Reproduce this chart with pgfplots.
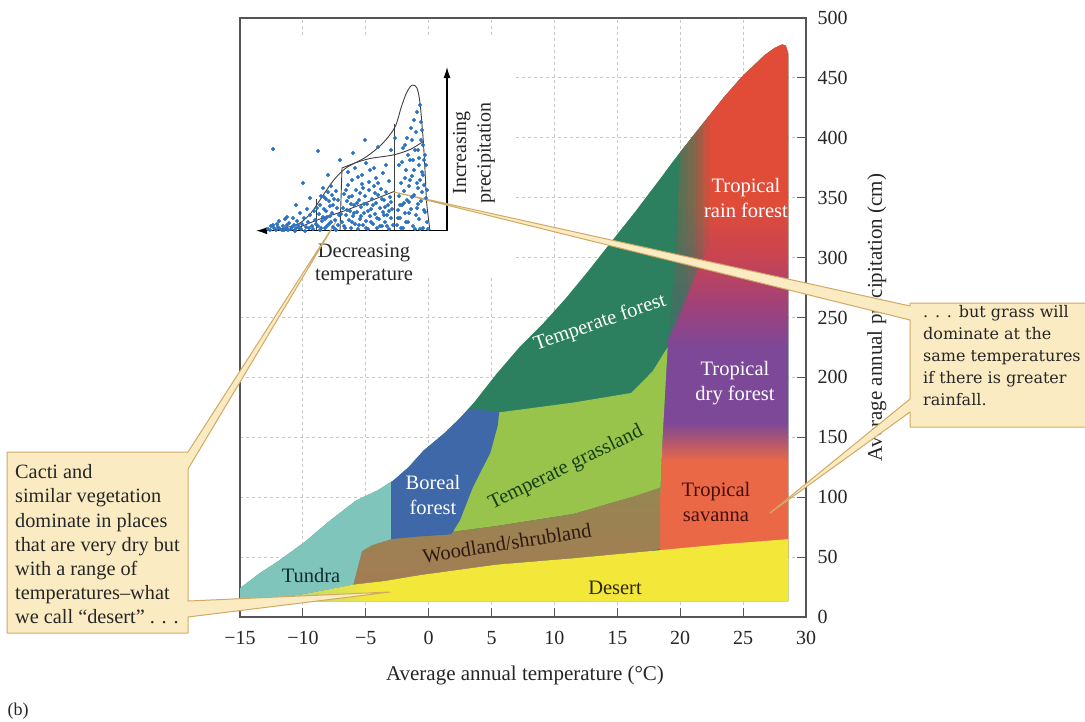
\documentclass[border=0pt]{standalone}
\usepackage{pgfplots}
\pgfplotsset{compat=1.18}
\usepackage{fontspec}
\setmainfont{Liberation Serif}
\newfontfamily\boxfont{DejaVu Serif}
\usetikzlibrary{arrows.meta}

\definecolor{tforest}{RGB}{44,128,96}
\definecolor{tundra}{RGB}{128,197,188}
\definecolor{boreal}{RGB}{62,104,168}
\definecolor{grass}{RGB}{152,196,76}
\definecolor{wood}{RGB}{163,124,84}
\definecolor{woodtop}{RGB}{150,134,82}
\definecolor{desert}{RGB}{243,231,58}
\definecolor{desA}{RGB}{176,208,140}
\definecolor{savanna}{RGB}{234,104,70}
\definecolor{dryf}{RGB}{125,72,152}
\definecolor{magf}{RGB}{160,65,122}
\definecolor{crim}{RGB}{200,68,82}
\definecolor{rainf}{RGB}{224,76,56}
\definecolor{boxfill}{RGB}{251,235,194}
\definecolor{boxline}{RGB}{208,170,100}
\definecolor{dotblue}{RGB}{45,115,195}
\definecolor{gridc}{RGB}{200,200,200}
\definecolor{framec}{RGB}{85,85,85}

\pgfdeclareverticalshading{tropical}{100bp}{color(0bp)=(savanna); color(34.35bp)=(savanna); color(38.08bp)=(dryf); color(45.44bp)=(dryf); color(49.53bp)=(magf); color(54.21bp)=(crim); color(59.46bp)=(rainf); color(100bp)=(rainf)}
\pgfdeclarehorizontalshading{desertsh}{100bp}{color(0bp)=(desA); color(27bp)=(desA); color(36bp)=(desert); color(100bp)=(desert)}

\newcommand\fs{\fontsize{21}{25}\selectfont}
\newcommand\bfs{\fontsize{20.5}{24.5}\selectfont}

\begin{document}
\begin{tikzpicture}
\useasboundingbox (0,0) rectangle (1085pt,721pt);

\begin{axis}[
  at={(240pt,104pt)}, anchor=south west,
  scale only axis, width=566pt, height=599pt,
  xmin=-15, xmax=30, ymin=0, ymax=500,
  enlargelimits=false, clip=true,
  xtick={-15,-10,...,30}, xticklabels={−15,−10,−5,0,5,10,15,20,25,30},
  ytick={0,50,...,500}, yticklabels={0,50,100,150,200,250,300,350,400,450,500},
  xtick pos=bottom, ytick pos=right, yticklabel pos=right,
  tick align=inside, major tick length=9pt,
  grid=major, grid style={gridc, dash pattern=on 3pt off 3pt, line width=0.8pt},
  axis line style={framec, line width=1.2pt},
  every tick/.style={framec, line width=1.2pt},
  tick label style={font=\fontsize{20}{24}\selectfont, text=black!85},
  xticklabel style={yshift=-11pt},
  yticklabel style={xshift=8pt},
  xlabel={Average annual temperature (°C)},
  ylabel={Average annual precipitation (cm)},
  label style={font=\fs, text=black!85},
  xlabel style={at={(axis description cs:0.5035,-0.097)}, anchor=center},
  ylabel style={at={(axis description cs:1.125,0.5)}, anchor=center},
]
\fill[white] (axis cs:-14.9,283) rectangle (axis cs:6.8,484);
% base: temperate forest (whole envelope)
\addplot[draw=none, fill=tforest] coordinates {(-15,13) (-15,24) (-13.5,36) (-11.9,47) (-9.8,63) (-7.9,80) (-5.8,97) (-4.0,106) (-2.8,114) (-1.6,125) (-0.4,139) (1.2,153) (2.4,165) (3.6,179) (5.4,203) (7.2,225) (9.1,245) (10.9,266) (12.7,289) (14.5,313) (16.4,338) (18.2,363) (20.0,388) (21.5,408) (23.4,433) (24.9,451) (26.0,462) (26.7,469) (27.5,475) (28.1,478) (28.4,477) (28.6,470) (28.6,13)} -- cycle;
% tropical column
\addplot[draw=none, shade, shading=tropical] coordinates {(18.4,50) (28.6,50) (28.6,470) (28.4,477) (28.1,478) (27.5,475) (26.7,469) (26.0,462) (24.9,451) (23.4,433) (21.5,408) (20.0,388) (19.6,300) (19.0,225) (18.6,150) (18.4,100)} -- cycle;
% soft transition temperate forest -> tropical
\addplot[draw=none, fill=tforest, fill opacity=0.22] coordinates {(18.8,228) (19.8,245) (19.8,385) (18.8,371.3)} -- cycle;
\addplot[draw=none, fill=tforest, fill opacity=0.22] coordinates {(18.8,228) (20.2,255) (20.2,390.7) (20.0,388) (18.8,371.3)} -- cycle;
\addplot[draw=none, fill=tforest, fill opacity=0.22] coordinates {(18.8,228) (20.6,265) (20.6,396) (20.0,388) (18.8,371.3)} -- cycle;
\addplot[draw=none, fill=tforest, fill opacity=0.22] coordinates {(18.8,228) (21.0,278) (21.0,401.3) (20.0,388) (18.8,371.3)} -- cycle;
\addplot[draw=none, fill=tforest, fill opacity=0.22] coordinates {(18.8,228) (21.4,290) (21.4,406.7) (20.0,388) (18.8,371.3)} -- cycle;
\addplot[draw=none, fill=tforest, fill opacity=0.22] coordinates {(18.8,228) (21.8,300) (21.8,412) (21.5,408) (20.0,388) (18.8,371.3)} -- cycle;
\addplot[draw=none, fill=tforest, fill opacity=0.15] coordinates {(18.8,228) (22.3,310) (22.3,418.5) (21.5,408) (20.0,388) (18.8,371.3)} -- cycle;
% temperate grassland
\addplot[draw=none, fill=grass] coordinates {(1.0,71) (2.0,95) (3.5,130) (5.0,170) (7.2,173) (11.5,179) (16.1,187) (17.8,205) (18.8,222) (19.0,225) (18.6,150) (18.4,100) (16.1,100) (11.5,86) (5.4,76) (1.8,71)} -- cycle;
% woodland / shrubland
\addplot[draw=none, top color=woodtop, bottom color=wood] coordinates {(-6.0,27) (-5.3,55) (-4.5,60) (-3.0,67) (-1.0,69) (1.8,71) (5.4,76) (11.5,86) (16.1,100) (18.4,108) (18.4,57) (17.6,55) (11.5,49) (5.4,43.7) (-0.65,35) (-3.5,30)} -- cycle;
% boreal forest
\addplot[draw=none, fill=boreal] coordinates {(-3.0,112.7) (-2.8,114) (-1.6,125) (-0.4,139) (1.2,153) (2.4,165) (3.2,174) (5.6,171) (5.5,160) (4.9,137) (3.5,108) (2.5,81) (1.8,69) (-1.0,67) (-3.0,65)} -- cycle;
% tundra
\addplot[draw=none, fill=tundra] coordinates {(-15,13) (-15,24) (-13.5,36) (-11.9,47) (-9.8,63) (-7.9,80) (-5.8,97) (-4.0,106) (-3.0,112.7) (-3.0,65) (-4.5,60) (-5.3,55) (-6.0,27) (-10,19) (-13,14.5)} -- cycle;
% desert
\addplot[draw=none, shade, shading=desertsh] coordinates {(-14,13) (28.6,13) (28.6,65) (23.7,61) (20.6,58) (17.6,55) (11.5,49) (5.4,43.7) (-0.65,35) (-3.5,30) (-6.0,27) (-10,19) (-13,14.5)} -- cycle;
\end{axis}

% overlay axis in picture units (x to the right, y downwards)
\begin{axis}[
  at={(0pt,0pt)}, anchor=south west,
  scale only axis, width=1085pt, height=721pt,
  xmin=0, xmax=1085, ymin=0, ymax=721, y dir=reverse,
  hide axis, clip=false, enlargelimits=false,
]
% inset scatter
\addplot[only marks, mark=*, mark size=1.75pt, color=dotblue, mark options={fill=dotblue, draw=dotblue}] coordinates {
(268,229) (271,226) (274,228) (277,224) (280,229) (283,226) (286,228) (289,223) (291,229) (294,225) (297,221) (299,228) (302,224) (304,218) (306,227) (308,222) (310,215) (312,226) (314,211) (315,220) (279,221) (285,219) (293,218) (300,213) (307,209) (296,228) (288,230) (276,230) (282,230)
(318,226) (319,214) (320,205) (321,196) (322,221) (323,188) (324,209) (325,228) (326,199) (327,217) (328,192) (329,224) (330,206) (331,186) (332,213) (333,227) (334,199) (335,220) (336,191) (337,208) (338,225) (339,215) (320,230) (326,211) (332,195) (336,230) (323,217) (329,201)
(342,222) (343,208) (344,194) (345,228) (346,215) (347,201) (348,185) (349,220) (350,211) (351,228) (352,196) (353,216) (354,205) (355,224) (356,190) (357,212) (358,229) (359,200) (360,219) (361,207) (362,184) (363,225) (364,213) (365,196) (366,221) (367,204) (368,229) (369,190) (370,216) (371,209) (372,199) (373,224) (374,186) (375,214) (376,203) (377,228) (378,195) (379,219) (380,208) (381,189) (382,226) (383,212) (384,200) (385,222) (386,192) (387,215) (388,205) (389,229) (390,197) (391,218) (392,209) (348,172) (355,168) (362,175) (370,170) (376,178) (383,173) (389,181) (366,163) (352,180) (386,165) (358,177) (374,168)
(397,225) (398,210) (399,196) (400,218) (401,183) (402,205) (403,228) (404,191) (405,213) (406,170) (407,200) (408,222) (409,186) (410,160) (411,209) (412,176) (413,226) (414,195) (415,150) (416,215) (417,183) (418,204) (419,165) (420,229) (421,140) (422,192) (423,175) (424,210) (425,155) (426,198) (427,222) (399,165) (403,148) (407,138) (411,128) (414,120) (417,112) (420,105) (416,132) (421,122) (423,145) (419,158) (405,178) (409,202) (413,160) (418,188) (422,172) (400,205) (424,185) (426,165) (428,229) (412,140) (408,155) (402,162)
(273,149) (318,151) (303,183) (287,217) (328,175) (365,140) (353,153) (378,147) (391,150) (395,138) (340,160) (310,198) (296,205)
(341,214) (344,226) (347,210) (349,197) (352,222) (354,213) (357,203) (359,225) (361,216) (364,204) (366,228) (368,211) (371,222) (373,205) (375,193) (377,218) (380,226) (382,199) (384,215) (387,226) (389,211) (391,202) (393,225) (346,190) (351,204) (360,193) (369,182) (378,183) (385,207) (363,188)
(398,218) (401,228) (404,203) (406,222) (409,213) (412,197) (415,229) (417,208) (419,219) (421,201) (423,228) (425,212) (427,190) (405,145) (410,180) (414,170) (418,150) (422,130) (420,180) (424,160)
(317,208) (321,228) (324,197) (327,226) (330,216) (333,205) (335,229) (338,200) (331,222) (325,219)
(270,230) (273,225) (278,227) (284,230) (287,225) (292,227) (295,231) (298,225) (301,229) (305,231) (309,228) (313,229) (316,224)
};
% inset curves
\addplot[black!75, line width=0.9pt, smooth, tension=0.5] coordinates {(272,230.7) (285,228) (300,223) (311,213) (320,200) (333,181) (346,168) (366,157) (383,143) (395,127) (401,108) (406,94) (410,87) (413,85) (417,88) (420,103) (423,137) (425,170) (426.7,203) (430,230.7)};
\addplot[black!75, line width=0.9pt, smooth, tension=0.5] coordinates {(342,168) (355,163) (370,158.5) (393,155) (410,149.5) (424,141)};
\addplot[black!75, line width=0.9pt, smooth, tension=0.5] coordinates {(292,230.5) (300,227) (320,219) (344,211) (370,201) (394,191.5)};
\addplot[black!75, line width=0.9pt] coordinates {(316.7,199) (316.7,230.7)};
\addplot[black!75, line width=0.9pt] coordinates {(342,168) (340,230.7)};
\addplot[black!75, line width=0.9pt] coordinates {(394,124) (394,230.7)};
% inset arrows
\addplot[black, line width=1.2pt, -{Latex[length=11pt,width=7pt]}] coordinates {(447,230.7) (256,230.7)};
\addplot[black, line width=1.2pt, -{Latex[length=11pt,width=7pt]}] coordinates {(447,230.7) (447,67)};
\node[font=\fontsize{20.5}{23}\selectfont, align=center, text=black!85] at (axis cs:364,264) {Decreasing\\temperature};
\node[font=\fontsize{20}{24.5}\selectfont, align=center, rotate=90, text=black!85] at (axis cs:474,153) {Increasing\\precipitation};

% biome labels
\node[font=\bfs, align=center, text=white] at (axis cs:746,198) {Tropical\\rain forest};
\node[font=\bfs, text=white, rotate=19] at (axis cs:600,323) {Temperate forest};
\node[font=\bfs, align=center, text=white] at (axis cs:735,383) {Tropical\\dry forest};
\node[font=\bfs, text={rgb,255:red,22;green,62;blue,22}, rotate=26] at (axis cs:566,468) {Temperate grassland};
\node[font=\bfs, align=center, text=white] at (axis cs:433,495) {Boreal\\forest};
\node[font=\bfs, align=center, text={rgb,255:red,70;green,15;blue,12}] at (axis cs:716,502) {Tropical\\savanna};
\node[font=\bfs, text={rgb,255:red,45;green,25;blue,15}, rotate=9] at (axis cs:507,543) {Woodland/shrubland};
\node[font=\bfs, text={rgb,255:red,15;green,45;blue,45}] at (axis cs:311,575) {Tundra};
\node[font=\bfs, text={rgb,255:red,45;green,40;blue,10}] at (axis cs:615,588) {Desert};

% callouts
\filldraw[fill=boxfill, draw=boxline, line width=1pt, line join=round] (axis cs:7,452) -- (axis cs:188,452) -- (axis cs:337,220) -- (axis cs:188,469) -- (axis cs:188,601) -- (axis cs:390,592) -- (axis cs:188,617) -- (axis cs:188,633) -- (axis cs:7,633) -- cycle;
\filldraw[fill=boxfill, draw=boxline, line width=1pt, line join=round] (axis cs:910,303) -- (axis cs:1090,303) -- (axis cs:1090,427) -- (axis cs:910,427) -- (axis cs:910,412) -- (axis cs:770,513) -- (axis cs:910,399) -- (axis cs:910,320) -- (axis cs:394,192) -- (axis cs:910,306) -- cycle;
\node[anchor=north west, align=left, inner sep=0pt, font=\fontsize{20.3}{24.2}\selectfont, text=black!85] at (axis cs:15,464.5) {Cacti and\\similar vegetation\\dominate in places\\that are very dry but\\with a range of\\temperatures–what\\we call “desert” . . .};
\node[anchor=north west, align=left, inner sep=0pt, font=\boxfont\fontsize{16}{22}\selectfont, text=black!85] at (axis cs:923,305) {. . . but grass will\\dominate at the\\same temperatures\\if there is greater\\rainfall.};
\node[font=\fontsize{18}{20}\selectfont, text=black!85] at (axis cs:18,711) {(b)};
\end{axis}
\end{tikzpicture}
\end{document}
